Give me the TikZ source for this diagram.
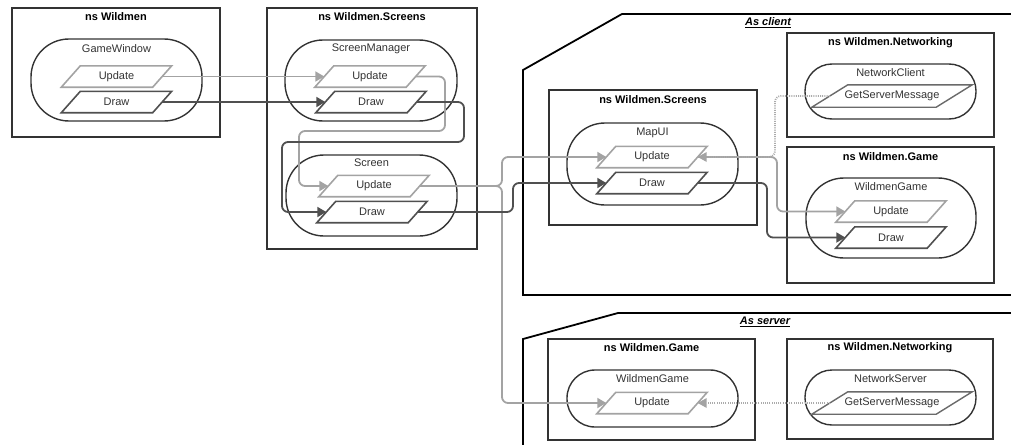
\documentclass[tikz,border=0pt]{standalone}
\usepackage{fontspec}
\setmainfont{Liberation Sans}
\usetikzlibrary{arrows.meta}
\definecolor{frame}{HTML}{333333}
\definecolor{upd}{HTML}{A3A3A3}
\definecolor{drw}{HTML}{505050}
\definecolor{dots}{HTML}{ABABAB}
\definecolor{txt}{HTML}{333333}
\tikzset{
  every node/.style={font=\fontsize{11}{13}\selectfont, text=txt},
  nsbox/.style={draw=frame, line width=1.8pt, rectangle, inner sep=0pt},
  nstitle/.style={font=\fontsize{11}{13}\selectfont\bfseries, text=black},
  pill/.style={draw=frame, line width=1.4pt, rectangle, inner sep=0pt},
  pilltext/.style={text=txt},
  % text area of a method; the slanted outline is added around it
  meth/.style={rectangle, inner sep=0pt, minimum width=91pt, minimum height=21pt},
  msg/.style={rectangle, inner sep=0pt, minimum width=124pt, minimum height=22pt},
  updedge/.style={draw=upd, line width=1.6pt},
  drwedge/.style={draw=drw, line width=1.6pt},
  msgedge/.style={draw=drw!85, line width=1.4pt},
  tip/.style={-{Triangle[length=9pt,width=10pt]}},
  updline/.style={draw=upd, line width=1.8pt, rounded corners=6pt, tip},
  drwline/.style={draw=drw, line width=1.8pt, rounded corners=6pt, tip},
  dotline/.style={draw=dots, line width=1.8pt, dash pattern=on 1pt off 1.2pt,
    rounded corners=6pt, -{Triangle[length=9pt,width=10pt,fill=upd,line width=0pt]}},
  region/.style={draw=black, line width=1.8pt},
  regiontitle/.style={font=\fontsize{11}{13}\selectfont\bfseries\itshape, text=black}
}
% #1 name, #2 position, #3 outline style, #4 half slant, #5 node style, #6 text
\newcommand\slantbox[6]{%
  \node[#5] (#1) at (#2) {#6};
  \draw[#3] ([xshift=-#4pt]#1.south west) -- ([xshift=#4pt]#1.north west)
    -- ([xshift=#4pt]#1.north east) -- ([xshift=-#4pt]#1.south east) -- cycle;
}
\begin{document}
\begin{tikzpicture}[x=1pt, y=-1pt]
\useasboundingbox (0,0) rectangle (1011,444);

% client and server regions
\draw[region] (1030,14) -- (622,14) -- (523,70) -- (523,295) -- (1030,295);
\node[regiontitle] (asclient) at (768,23) {\underline{As client}};
\draw[region] (1030,313) -- (618,313) -- (523,339) -- (523,460);
\node[regiontitle] (asserver) at (765,322) {\underline{As server}};

% namespace boxes
\node[nsbox, minimum width=208pt, minimum height=129pt] (nsA) at (116,72.5) {};
\node[nstitle] (nsAt) at (116,17) {ns Wildmen};
\node[nsbox, minimum width=210pt, minimum height=241pt] (nsB) at (372,128.5) {};
\node[nstitle] (nsBt) at (372,17) {ns Wildmen.Screens};
\node[nsbox, minimum width=208pt, minimum height=135pt] (nsC) at (653,157.5) {};
\node[nstitle] (nsCt) at (653,100) {ns Wildmen.Screens};
\node[nsbox, minimum width=207pt, minimum height=104pt] (nsD) at (890.5,85) {};
\node[nstitle] (nsDt) at (890.5,43) {ns Wildmen.Networking};
\node[nsbox, minimum width=207pt, minimum height=136pt] (nsE) at (890.5,215) {};
\node[nstitle] (nsEt) at (890.5,157) {ns Wildmen.Game};
\node[nsbox, minimum width=207pt, minimum height=101pt] (nsF) at (651.5,389.5) {};
\node[nstitle] (nsFt) at (651.5,348) {ns Wildmen.Game};
\node[nsbox, minimum width=206pt, minimum height=100pt] (nsG) at (890,389) {};
\node[nstitle] (nsGt) at (890,348) {ns Wildmen.Networking};

% classes
\node[pill, minimum width=171pt, minimum height=82pt, rounded corners=38pt] (gw) at (116.5,80) {};
\node[pilltext] (gwt) at (116.5,49) {GameWindow};
\node[pill, minimum width=172pt, minimum height=81pt, rounded corners=38pt] (sm) at (371,80.5) {};
\node[pilltext] (smt) at (371,49) {ScreenManager};
\node[pill, minimum width=171pt, minimum height=81pt, rounded corners=38pt] (sc) at (371.5,195.5) {};
\node[pilltext] (sct) at (371.5,163) {Screen};
\node[pill, minimum width=171pt, minimum height=82pt, rounded corners=38pt] (mui) at (652.5,164) {};
\node[pilltext] (muit) at (652.5,133) {MapUI};
\node[pill, minimum width=171pt, minimum height=55pt, rounded corners=27pt] (nc) at (890.5,91.5) {};
\node[pilltext] (nct) at (890.5,73) {NetworkClient};
\node[pill, minimum width=170pt, minimum height=80pt, rounded corners=38pt] (wgc) at (891,218) {};
\node[pilltext] (wgct) at (891,187) {WildmenGame};
\node[pill, minimum width=171pt, minimum height=57pt, rounded corners=28pt] (wgs) at (652.5,398.5) {};
\node[pilltext] (wgst) at (652.5,379) {WildmenGame};
\node[pill, minimum width=171pt, minimum height=55pt, rounded corners=27pt] (ns) at (890.5,397.5) {};
\node[pilltext] (nst) at (890.5,379) {NetworkServer};

% methods
\slantbox{gwu}{116.5,76.5}{updedge}{9.5}{meth}{Update}
\slantbox{gwd}{116.5,102}{drwedge}{9.5}{meth}{Draw}
\slantbox{smu}{370,76.5}{updedge}{9.5}{meth}{Update}
\slantbox{smd}{371,102}{drwedge}{9.5}{meth}{Draw}
\slantbox{scu}{374,186}{updedge}{9.5}{meth}{Update}
\slantbox{scd}{372,212}{drwedge}{9.5}{meth}{Draw}
\slantbox{mu}{652,157}{updedge}{9.5}{meth}{Update}
\slantbox{md}{652,183}{drwedge}{9.5}{meth}{Draw}
\slantbox{ncg}{892,96}{msgedge}{18}{msg}{GetServerMessage}
\slantbox{wgu}{891,211.5}{updedge}{9.5}{meth}{Update}
\slantbox{wgd}{891,237.5}{drwedge}{9.5}{meth}{Draw}
\slantbox{wsu}{652,403}{updedge}{9.5}{meth}{Update}
\slantbox{nsg}{892,403}{msgedge}{18}{msg}{GetServerMessage}

% calls: Update chain
\draw[updline] (gwu.east) -- (smu.west);
\draw[updline] (smu.east) -| (445,131) -- (299,131) |- (scu.west);
\draw[updline] (scu.east) -| (502,157) -- (mu.west);
\draw[updline] (scu.east) -| (502,403) -- (wsu.west);
\draw[updline] (mu.east) -| (777,211.5) -- (wgu.west);

% calls: Draw chain
\draw[drwline] (gwd.east) -- (smd.west);
\draw[drwline] (smd.east) -| (464,142) -- (282,142) |- (scd.west);
\draw[drwline] (scd.east) -| (513,183) -- (md.west);
\draw[drwline] (md.east) -| (767,237.5) -- (wgd.west);

% server messages
\draw[dotline] (ncg.west) -| (775,157) -- (mu.east);
\draw[dotline] (nsg.west) -- (wsu.east);
\end{tikzpicture}
\end{document}
